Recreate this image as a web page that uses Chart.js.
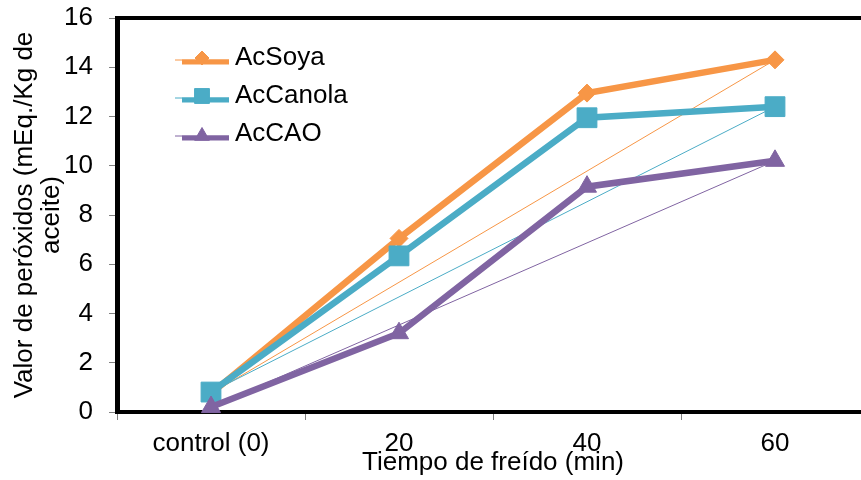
<!DOCTYPE html>
<html>
<head>
<meta charset="utf-8">
<script src="https://cdn.jsdelivr.net/npm/chart.js@4"></script>
<style>
  html, body { margin: 0; padding: 0; background: #fff; overflow: hidden; }
  #wrap { width: 861px; height: 480px; overflow: hidden; }
</style>
</head>
<body>
<div id="wrap"><canvas id="grafico" width="884" height="480"></canvas></div>
<script>
// datos
const categorias = ['control (0)', '20', '40', '60'];
const acSoya = [0.75, 7.05, 12.95, 14.3];
const acCanola = [0.81, 6.34, 11.95, 12.4];
const acCAO = [0.2, 3.2, 9.15, 10.2];

const nombres = ['AcSoya', 'AcCanola', 'AcCAO'];
const colores = ['#F79646', '#4BACC6', '#8064A2'];
const marcas = ['rectRot', 'rect', 'triangle'];
const radios = [9, 14, 11];
const series = [acSoya, acCanola, acCAO];

Chart.defaults.font.family = "'Liberation Sans', Arial, sans-serif";
Chart.defaults.color = '#000';

const fuente = { size: 26 };

// línea fina del primer al último punto
const lineaExtremos = (s) => s.map((v, i) => (i === 0 || i === s.length - 1) ? v : null);

const datasets = [];
series.forEach((s, i) => {
  datasets.push({
    label: nombres[i],
    data: s,
    borderColor: colores[i],
    backgroundColor: colores[i],
    borderWidth: 6.5,
    pointStyle: marcas[i],
    pointRadius: radios[i],
    pointBorderWidth: 1,
    pointBorderColor: colores[i],
    pointBackgroundColor: colores[i],
    clip: false,
    order: 3 - i
  });
});
series.forEach((s, i) => {
  datasets.push({
    label: nombres[i] + ' (tendencia)',
    data: lineaExtremos(s),
    borderColor: colores[i],
    borderWidth: 1,
    pointRadius: 0,
    spanGaps: true,
    clip: false,
    order: 10 - i
  });
});

// marco superior del área de trazado
const marcoSuperior = {
  id: 'marcoSuperior',
  beforeDatasetsDraw(chart) {
    const { ctx, chartArea: a } = chart;
    ctx.save();
    ctx.strokeStyle = '#000';
    ctx.lineWidth = 4;
    ctx.beginPath();
    ctx.moveTo(a.left - 2, a.top);
    ctx.lineTo(a.right, a.top);
    ctx.stroke();
    ctx.restore();
  }
};

// leyenda dentro del gráfico: línea + marcador + texto
const leyendaInterna = {
  id: 'leyendaInterna',
  afterDraw(chart) {
    const { ctx } = chart;
    const radiosLeyenda = [7, 10.5, 8.5];
    ctx.save();
    nombres.forEach((nombre, i) => {
      const y = 58 + i * 38;
      ctx.strokeStyle = colores[i];
      ctx.lineWidth = 1;
      ctx.beginPath();
      ctx.moveTo(175, y + 2);
      ctx.lineTo(229, y + 2);
      ctx.stroke();
      ctx.lineWidth = 5;
      ctx.beginPath();
      ctx.moveTo(182, y + 4);
      ctx.lineTo(229, y + 4);
      ctx.stroke();
      ctx.fillStyle = colores[i];
      ctx.lineWidth = 1;
      Chart.helpers.drawPoint(ctx, {
        pointStyle: marcas[i],
        radius: radiosLeyenda[i],
        rotation: 0,
        borderWidth: 1
      }, 202, y + (i === 2 ? 2 : 0));
      ctx.fillStyle = '#000';
      ctx.font = "26px 'Liberation Sans', Arial, sans-serif";
      ctx.textBaseline = 'middle';
      ctx.textAlign = 'left';
      ctx.fillText(nombre, 235, y);
    });
    ctx.restore();
  }
};

new Chart(document.getElementById('grafico'), {
  type: 'line',
  data: { labels: categorias, datasets: datasets },
  options: {
    responsive: false,
    animation: false,
    layout: { padding: { top: 18, right: 11, left: 0, bottom: 0 } },
    plugins: {
      legend: { display: false },
      tooltip: { enabled: false }
    },
    scales: {
      x: {
        offset: true,
        grid: {
          offset: true,
          drawOnChartArea: false,
          drawTicks: true,
          tickLength: 8,
          color: '#808080'
        },
        border: { display: true, color: '#000', width: 4 },
        ticks: { font: fuente, padding: 8, maxRotation: 0, autoSkip: false },
        title: {
          display: true,
          text: 'Tiempo de freído (min)',
          font: { size: 26, lineHeight: 1.05 },
          padding: { top: 0, bottom: 4 }
        },
        afterFit(scale) {
          scale.height = 68;
          scale.paddingLeft = 0;
          scale.paddingRight = 0;
        }
      },
      y: {
        min: 0,
        max: 16,
        ticks: { stepSize: 2, font: fuente, padding: 16 },
        grid: {
          drawOnChartArea: false,
          drawTicks: true,
          tickLength: 8,
          color: '#808080'
        },
        border: { display: true, color: '#000', width: 5 },
        title: {
          display: true,
          text: ['Valor de peróxidos (mEq./Kg de', 'aceite)'],
          font: { size: 26, lineHeight: 1.05 },
          padding: { top: 11, bottom: 0 }
        },
        afterFit(scale) {
          scale.width = 117;
          scale.paddingTop = 0;
          scale.paddingBottom = 0;
        }
      }
    }
  },
  plugins: [marcoSuperior, leyendaInterna]
});
</script>
</body>
</html>
